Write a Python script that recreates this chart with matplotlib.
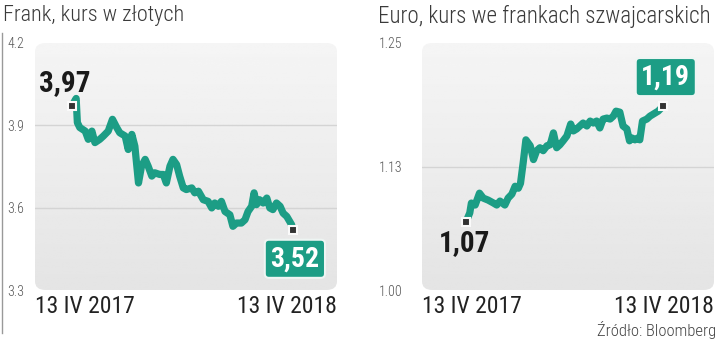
import matplotlib
matplotlib.use("Agg")
import matplotlib.pyplot as plt
import numpy as np
from matplotlib.patches import FancyBboxPatch
from matplotlib import font_manager

# waski krój, jesli jest dostepny
dostepne = {f.name for f in font_manager.fontManager.ttflist}
krój = 'DejaVu Sans'
for nazwa in ['Liberation Sans Narrow', 'Roboto Condensed', 'Arial Narrow', 'Liberation Sans']:
    if nazwa in dostepne:
        krój = nazwa
        break
plt.rcParams['font.family'] = [krój, 'DejaVu Sans']
plt.rcParams['font.stretch'] = 'condensed'

# kurs franka w zlotych (dni od 13 IV 2017)
chf_dni = [0, 7, 9, 13, 22, 27, 33, 38, 46, 52, 60, 67, 74, 79, 88, 93, 99, 104, 110,
           115, 121, 126, 132, 137, 145, 151, 156, 162, 167, 173, 178, 184, 189, 198,
           203, 209, 217, 225, 231, 236, 242, 247, 253, 261, 266, 272, 280, 286, 291,
           297, 301, 305, 310, 316, 322, 327, 332, 338, 344, 349, 355, 363, 365]
chf_pln = [3.971, 3.998, 3.910, 3.892, 3.879, 3.849, 3.879, 3.837, 3.849, 3.861, 3.879,
           3.922, 3.892, 3.873, 3.861, 3.812, 3.867, 3.824, 3.690, 3.751, 3.776, 3.751,
           3.715, 3.727, 3.721, 3.721, 3.690, 3.751, 3.776, 3.757, 3.715, 3.672, 3.666,
           3.672, 3.654, 3.660, 3.629, 3.623, 3.599, 3.617, 3.605, 3.623, 3.586, 3.574,
           3.532, 3.544, 3.544, 3.556, 3.586, 3.605, 3.654, 3.611, 3.629, 3.617, 3.635,
           3.599, 3.593, 3.617, 3.605, 3.580, 3.568, 3.538, 3.520]

# kurs euro we frankach
eur_dni = [0, 7, 10, 17, 25, 32, 41, 51, 57, 63, 72, 78, 85, 91, 97, 101, 106, 111, 119,
           125, 131, 137, 143, 150, 156, 162, 168, 174, 180, 187, 194, 199, 205, 211,
           217, 224, 230, 236, 242, 248, 254, 261, 267, 273, 278, 285, 291, 298, 303,
           307, 313, 319, 322, 327, 335, 341, 347, 356, 365]
eur_chf = [1.069, 1.078, 1.088, 1.086, 1.098, 1.093, 1.091, 1.088, 1.086, 1.090, 1.086,
           1.093, 1.097, 1.105, 1.103, 1.108, 1.129, 1.152, 1.146, 1.132, 1.141, 1.144,
           1.141, 1.146, 1.147, 1.159, 1.144, 1.147, 1.151, 1.156, 1.168, 1.161, 1.163,
           1.166, 1.169, 1.166, 1.171, 1.169, 1.171, 1.164, 1.173, 1.174, 1.173, 1.176,
           1.181, 1.180, 1.166, 1.163, 1.151, 1.154, 1.152, 1.154, 1.152, 1.171, 1.173,
           1.176, 1.178, 1.181, 1.186]

zielony = '#1c9d85'

fig = plt.figure(figsize=(7.2, 3.43), dpi=100)


def panel(rect, dni, kurs, xlim, ylim, yticks, ylabels, grid, pad,
          start_txt, koniec_txt, start_off, koniec_off):
    # tlo: zaokraglony prostokat z gradientem
    bg = fig.add_axes(rect, zorder=0)
    bg.set_xlim(0, 1)
    bg.set_ylim(0, 1)
    bg.axis('off')
    box = FancyBboxPatch((0, 0), 1, 1, boxstyle="round,pad=0,rounding_size=0.035",
                         transform=bg.transAxes, fc='none', ec='none')
    bg.add_patch(box)
    grad = np.linspace(0.96, 0.895, 100).reshape(-1, 1)
    im = bg.imshow(grad, extent=(0, 1, 0, 1), aspect='auto', cmap='gray',
                   vmin=0, vmax=1, origin='upper')
    im.set_clip_path(box)

    ax = fig.add_axes(rect, zorder=1)
    ax.patch.set_alpha(0)
    for s in ax.spines.values():
        s.set_visible(False)
    ax.set_xlim(*xlim)
    ax.set_ylim(*ylim)
    ax.set_xticks([])
    ax.set_yticks(yticks, ylabels)
    ax.tick_params(axis='y', length=0, pad=pad, labelsize=10, labelcolor='#555555')
    for lab in ax.get_yticklabels():
        lab.set_fontweight('light')
    for g in grid:
        ax.axhline(g, color='#d4d4d4', lw=1, zorder=1)

    ax.plot(dni, kurs, color=zielony, lw=5.2, solid_joinstyle='round', zorder=3)
    ax.plot([dni[0], dni[-1]], [kurs[0], kurs[-1]], 's', ms=6, mfc='#333333',
            mec='#fafafa', mew=1.5, zorder=4)

    ax.annotate(start_txt, (dni[0], kurs[0]), xytext=start_off, textcoords='offset points',
                ha='center', va='center', fontsize=21, fontweight='bold', color='#1a1a1a')
    ax.annotate(koniec_txt, (dni[-1], kurs[-1]), xytext=koniec_off, textcoords='offset points',
                ha='center', va='center', fontsize=20, fontweight='bold', color='white',
                bbox=dict(boxstyle='round,pad=0.2,rounding_size=0.15', fc=zielony,
                          ec='#eef5f3', lw=1.5))

    ax.text(0, -0.066, '13 IV 2017', transform=ax.transAxes, ha='left', va='center',
            fontsize=17, color='#222222')
    ax.text(1, -0.066, '13 IV 2018', transform=ax.transAxes, ha='right', va='center',
            fontsize=17, color='#222222')
    return ax


panel([35 / 720, 53 / 343, 302 / 720, 247 / 343], chf_dni, chf_pln,
      (-61, 438), (3.3, 4.2), [3.3, 3.6, 3.9, 4.2], ['3.3', '3.6', '3.9', '4.2'],
      [3.6, 3.9], 7.5, '3,97', '3,52', (-5, 16.5), (1.5, -21))
panel([422 / 720, 53 / 343, 292 / 720, 247 / 343], eur_dni, eur_chf,
      (-81.5, 459.5), (1.0, 1.25), [1.0, 1.125, 1.25], ['1.00', '1.13', '1.25'],
      [1.125], 14, '1,07', '1,19', (-1, -15.5), (2, 21))

fig.text(3 / 720, 1 - 16 / 343, 'Frank, kurs w złotych', ha='left', va='center',
         fontsize=16, fontweight='light', color='#3a3a3a')
fig.text(378 / 720, 1 - 16 / 343, 'Euro, kurs we frankach szwajcarskich', ha='left',
         va='center', fontsize=16.6, fontweight='light', color='#3a3a3a')
fig.text(716 / 720, 1 - 330 / 343, 'Źródło: Bloomberg', ha='right', va='center',
         fontsize=12, fontweight='light', color='#444444')

# cienka linia przy lewej krawedzi
fig.add_artist(plt.Line2D([1.5 / 720, 1.5 / 720], [1 - 33 / 343, 1 - 333 / 343],
                          color='#999999', lw=1))

fig.savefig('out.png', dpi=100)
